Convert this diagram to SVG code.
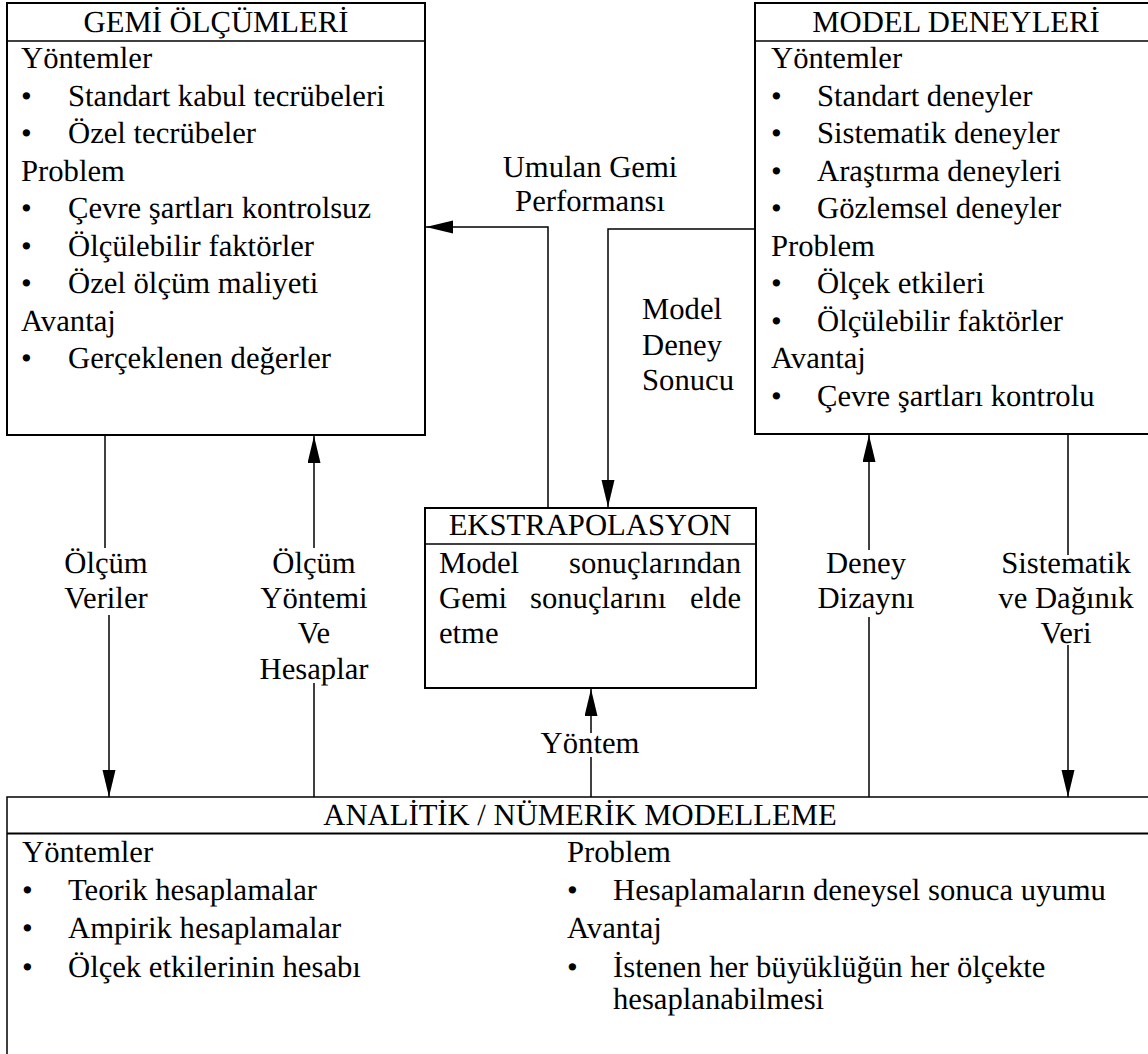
<svg xmlns="http://www.w3.org/2000/svg" width="1148" height="1054" viewBox="0 0 1148 1054" font-family="Liberation Serif, serif" font-size="30.67" text-rendering="geometricPrecision">
<style>
text{fill:#000}
.c{text-anchor:middle}
.e{text-anchor:end}
.box{fill:#fff;stroke:#000;stroke-width:2}
.sep{stroke:#000;stroke-width:1.6}
.ln{fill:none;stroke:#000;stroke-width:1.5}
</style>
<defs>
<marker id="ah" markerUnits="userSpaceOnUse" markerWidth="28" markerHeight="14" refX="27" refY="6.5" orient="auto">
<path d="M0,0 L27,6.5 L0,13 Z" fill="#000"/>
</marker>
</defs>

<g id="connectors">
<path class="ln" d="M548,508 V227 H426" marker-end="url(#ah)"/>
<path class="ln" d="M755,229 H608 V507" marker-end="url(#ah)"/>
<path class="ln" d="M105,435 V548"/>
<path class="ln" d="M109,615 V797" marker-end="url(#ah)"/>
<path class="ln" d="M314,548 V436" marker-end="url(#ah)"/>
<path class="ln" d="M314,797 V683"/>
<path class="ln" d="M591,797 V757"/>
<path class="ln" d="M591,733 V689" marker-end="url(#ah)"/>
<path class="ln" d="M869,550 V435" marker-end="url(#ah)"/>
<path class="ln" d="M869,797 V617"/>
<path class="ln" d="M1068,434 V555"/>
<path class="ln" d="M1068,645 V797" marker-end="url(#ah)"/>
<text class="c" x="590" y="177">Umulan Gemi</text>
<text class="c" x="590" y="211">Performansı</text>
<text x="642" y="319">Model</text>
<text x="642" y="355">Deney</text>
<text x="642" y="390">Sonucu</text>
<text class="c" x="106" y="573">Ölçüm</text>
<text class="c" x="106" y="608">Veriler</text>
<text class="c" x="314" y="573">Ölçüm</text>
<text class="c" x="314" y="608">Yöntemi</text>
<text class="c" x="314" y="643">Ve</text>
<text class="c" x="314" y="679">Hesaplar</text>
<text class="c" x="590" y="753">Yöntem</text>
<text class="c" x="866" y="573">Deney</text>
<text class="c" x="866" y="608">Dizaynı</text>
<text class="c" x="1066" y="573">Sistematik</text>
<text class="c" x="1066" y="608">ve Dağınık</text>
<text class="c" x="1066" y="643">Veri</text>
</g>

<g id="gemi-olcumleri">
<rect class="box" x="7" y="3" width="418" height="432"/>
<line class="sep" x1="7" y1="41" x2="425" y2="41"/>
<text class="c" x="216" y="32">GEMİ ÖLÇÜMLERİ</text>
<text x="21" y="68">Yöntemler</text>
<text x="21" y="105.5">•</text><text x="68" y="105.5">Standart kabul tecrübeleri</text>
<text x="21" y="143">•</text><text x="68" y="143">Özel tecrübeler</text>
<text x="21" y="180.5">Problem</text>
<text x="21" y="218">•</text><text x="68" y="218">Çevre şartları kontrolsuz</text>
<text x="21" y="255.5">•</text><text x="68" y="255.5">Ölçülebilir faktörler</text>
<text x="21" y="293">•</text><text x="68" y="293">Özel ölçüm maliyeti</text>
<text x="21" y="330.5">Avantaj</text>
<text x="21" y="368">•</text><text x="68" y="368">Gerçeklenen değerler</text>
</g>

<g id="model-deneyleri">
<rect class="box" x="755" y="3" width="402" height="431"/>
<line class="sep" x1="755" y1="41" x2="1157" y2="41"/>
<text class="c" x="956" y="32">MODEL DENEYLERİ</text>
<text x="771" y="68">Yöntemler</text>
<text x="771" y="105.5">•</text><text x="817" y="105.5">Standart deneyler</text>
<text x="771" y="143">•</text><text x="817" y="143">Sistematik deneyler</text>
<text x="771" y="180.5">•</text><text x="817" y="180.5">Araştırma deneyleri</text>
<text x="771" y="218">•</text><text x="817" y="218">Gözlemsel deneyler</text>
<text x="771" y="255.5">Problem</text>
<text x="771" y="293">•</text><text x="817" y="293">Ölçek etkileri</text>
<text x="771" y="330.5">•</text><text x="817" y="330.5">Ölçülebilir faktörler</text>
<text x="771" y="368">Avantaj</text>
<text x="771" y="405.5">•</text><text x="817" y="405.5">Çevre şartları kontrolu</text>
</g>

<g id="ekstrapolasyon">
<rect class="box" x="425" y="508" width="331" height="180"/>
<line class="sep" x1="425" y1="544" x2="756" y2="544"/>
<text class="c" x="590" y="535">EKSTRAPOLASYON</text>
<text y="573"><tspan x="439">Model</tspan><tspan class="e" x="741">sonuçlarından</tspan></text>
<text y="608"><tspan x="439">Gemi</tspan><tspan x="530">sonuçlarını</tspan><tspan class="e" x="741">elde</tspan></text>
<text x="439" y="643">etme</text>
</g>

<g id="analitik-numerik">
<rect class="box" x="7" y="797" width="1146" height="270" style="stroke-width:1.5"/>
<line class="sep" x1="7" y1="833.5" x2="1153" y2="833.5" style="stroke-width:2"/>
<text class="c" x="580" y="825">ANALİTİK / NÜMERİK MODELLEME</text>
<text x="22" y="862">Yöntemler</text>
<text x="22" y="900">•</text><text x="68" y="900">Teorik hesaplamalar</text>
<text x="22" y="938">•</text><text x="68" y="938">Ampirik hesaplamalar</text>
<text x="22" y="976.5">•</text><text x="68" y="976.5">Ölçek etkilerinin hesabı</text>
<text x="567" y="862">Problem</text>
<text x="567" y="900">•</text><text x="613" y="900">Hesaplamaların deneysel sonuca uyumu</text>
<text x="567" y="938">Avantaj</text>
<text x="567" y="976.5">•</text><text x="613" y="976.5">İstenen her büyüklüğün her ölçekte</text>
<text x="613" y="1009">hesaplanabilmesi</text>
</g>
</svg>
